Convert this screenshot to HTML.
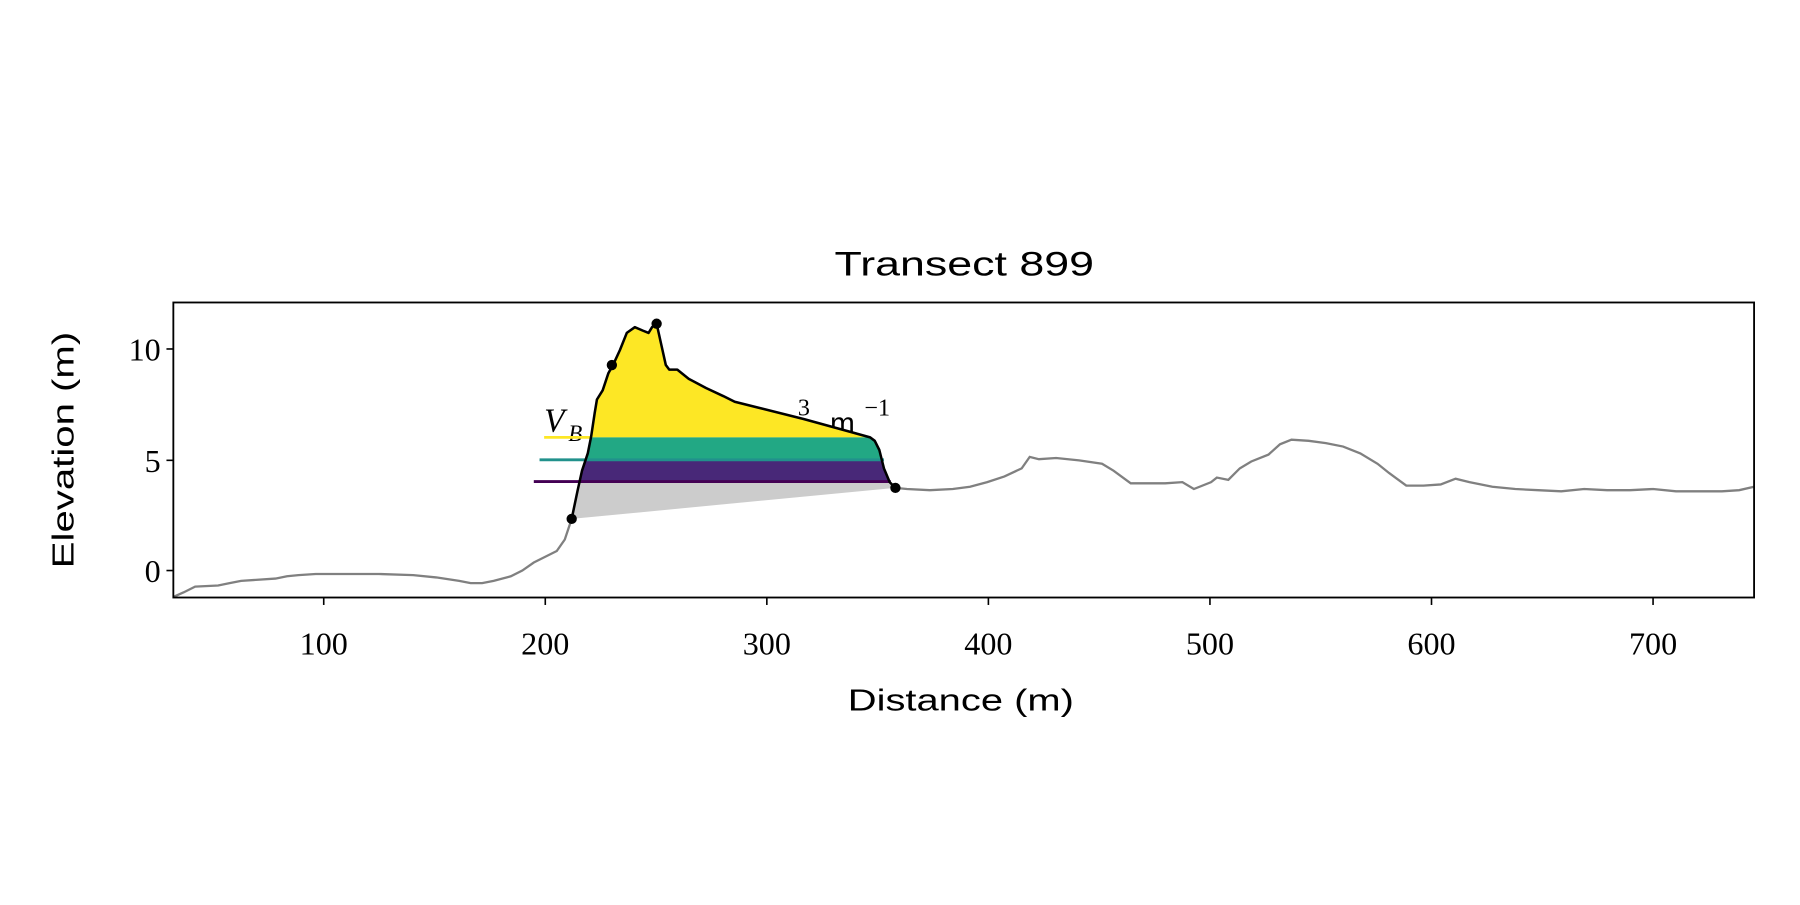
<!DOCTYPE html>
<html><head><style>html,body{margin:0;padding:0;background:#fff}</style></head>
<body>
<svg width="1800" height="900" viewBox="0 0 1568 784" xmlns="http://www.w3.org/2000/svg">
<defs>
<clipPath id="cp"><polygon points="498,452 503,428 507,410 512,395 515,380 518,360 520,348 525,340 530,325 534,318 540,305 546,290 553,285 560,288 565,290 568,285 572,282 576,300 580,318 583,322 590,322 600,330 615,338 630,345 640,350 660,355 700,365 740,376 758,381 762,384 766,392 770,408 775,420 780,425"/></clipPath>
</defs>
<text x="840" y="240" font-family="Liberation Sans, sans-serif" font-size="30" text-anchor="middle" textLength="226" lengthAdjust="spacingAndGlyphs">Transect 899</text>
<text x="474" y="376" font-family="Liberation Serif, serif" font-style="italic" font-size="29">V</text>
<text x="495" y="384" font-family="Liberation Serif, serif" font-style="italic" font-size="20">B</text>
<text x="695" y="362" font-family="Liberation Serif, serif" font-size="21">3</text>
<text x="723" y="377" font-family="Liberation Sans, sans-serif" font-size="26">m</text>
<text x="753" y="362" font-family="Liberation Serif, serif" font-size="21">−1</text>
<g clip-path="url(#cp)">
<rect x="490" y="270" width="300" height="111" fill="#fde725"/>
<rect x="490" y="381" width="300" height="20" fill="#22a884"/>
<rect x="490" y="401" width="300" height="18" fill="#482878"/>
<rect x="490" y="419" width="300" height="40" fill="#cccccc"/>
</g>
<line x1="474" y1="381" x2="515" y2="381" stroke="#fde725" stroke-width="2.5"/>
<line x1="470" y1="400.5" x2="770" y2="400.5" stroke="#21918c" stroke-width="2.5"/>
<line x1="465" y1="419.5" x2="776" y2="419.5" stroke="#440154" stroke-width="2.5"/>
<polyline fill="none" stroke="#808080" stroke-width="2" points="151,520 160,516 170,511 190,510 200,508 210,506 240,504 250,502 260,501 275,500 300,500 330,500 360,501 380,503 400,506 410,508 420,508 430,506 445,502 455,497 465,490 475,485 485,480 492,470 498,452"/>
<polyline fill="none" stroke="#808080" stroke-width="2" points="780,425 790,426 810,427 830,426 845,424 860,420 875,415 890,408 897,398 905,400 920,399 940,401 960,404 970,410 985,421 1000,421 1015,421 1030,420 1040,426 1055,420 1060,416 1070,418 1080,408 1090,402 1105,396 1115,387 1125,383 1140,384 1155,386 1170,389 1185,395 1200,404 1210,412 1225,423 1240,423 1255,422 1268,417 1280,420 1300,424 1320,426 1340,427 1360,428 1380,426 1400,427 1420,427 1440,426 1460,428 1480,428 1500,428 1515,427 1528,424"/>
<polyline fill="none" stroke="#000" stroke-width="2.2" stroke-linejoin="round" points="498,452 503,428 507,410 512,395 515,380 518,360 520,348 525,340 530,325 534,318 540,305 546,290 553,285 560,288 565,290 568,285 572,282 576,300 580,318 583,322 590,322 600,330 615,338 630,345 640,350 660,355 700,365 740,376 758,381 762,384 766,392 770,408 775,420 780,425"/>
<circle cx="498" cy="452" r="4.5"/><circle cx="533" cy="318" r="4.5"/><circle cx="572" cy="282" r="4.5"/><circle cx="780" cy="425" r="4.5"/>
<rect x="151" y="263.5" width="1377" height="257" fill="none" stroke="#000" stroke-width="1.6"/>
<g stroke="#000" stroke-width="1.4">
<line x1="145" y1="304" x2="151" y2="304"/><line x1="145" y1="401" x2="151" y2="401"/><line x1="145" y1="497" x2="151" y2="497"/>
<line x1="282" y1="521" x2="282" y2="527"/><line x1="475" y1="521" x2="475" y2="527"/><line x1="668" y1="521" x2="668" y2="527"/><line x1="861" y1="521" x2="861" y2="527"/><line x1="1054" y1="521" x2="1054" y2="527"/><line x1="1247" y1="521" x2="1247" y2="527"/><line x1="1440" y1="521" x2="1440" y2="527"/>
</g>
<g font-family="Liberation Serif, serif" font-size="28" text-anchor="end">
<text x="140" y="314">10</text><text x="140" y="411">5</text><text x="140" y="507">0</text>
</g>
<g font-family="Liberation Serif, serif" font-size="28" text-anchor="middle">
<text x="282" y="570">100</text><text x="475" y="570">200</text><text x="668" y="570">300</text><text x="861" y="570">400</text><text x="1054" y="570">500</text><text x="1247" y="570">600</text><text x="1440" y="570">700</text>
</g>
<text x="837" y="619" font-family="Liberation Sans, sans-serif" font-size="27" text-anchor="middle" textLength="197" lengthAdjust="spacingAndGlyphs">Distance (m)</text>
<text transform="translate(64,392) rotate(-90)" font-family="Liberation Sans, sans-serif" font-size="27" text-anchor="middle" textLength="206" lengthAdjust="spacingAndGlyphs">Elevation (m)</text>
</svg>
</body></html>
